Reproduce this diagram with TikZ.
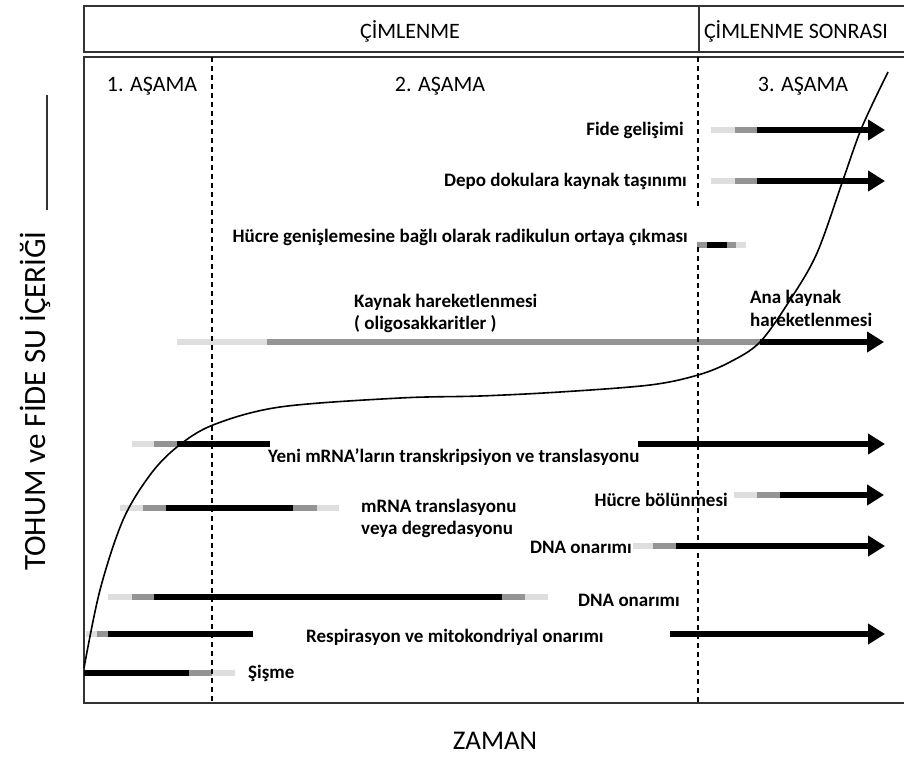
\documentclass[tikz,border=0pt]{standalone}
\usepackage{fontspec}
\setmainfont{Carlito}
\usetikzlibrary{arrows.meta}
\begin{document}
\begin{tikzpicture}[x=1pt,y=-1pt,
  frame/.style={line width=1.6pt, draw=black!80},
  phase/.style={line width=1.2pt, dash pattern=on 5pt off 4pt},
  lbar/.style={line width=6pt, draw=black!13},
  mbar/.style={line width=6pt, draw=black!42},
  kbar/.style={line width=6pt, draw=black},
  arr/.style={kbar, -{Triangle[length=17pt,width=20pt]}},
  lab/.style={font=\fontsize{19}{22}\selectfont\bfseries, inner sep=0pt},
  head/.style={font=\fontsize{22}{26}\selectfont, inner sep=0pt},
]
\useasboundingbox (0,0) rectangle (904,756);
% frames
\draw[frame] (904,6) -- (84,6) -- (84,52) -- (904,52);
\draw[frame] (699,6) -- (699,52);
\draw[frame] (904,57) -- (84,57) -- (84,703) -- (904,703);
% header texts
\node[head] (cim) at (410,31) {ÇİMLENME};
\node[head] (sonra) at (796,31) {ÇİMLENME SONRASI};
\node[head] (a1) at (152,86) {1. AŞAMA};
\node[head] (a2) at (440,86) {2. AŞAMA};
\node[head] (a3) at (803,86) {3. AŞAMA};
% axis labels
\node[font=\fontsize{31}{36}\selectfont, rotate=90, inner sep=0pt] (ylab) at (35,401) {TOHUM ve FİDE SU İÇERİĞİ};
\draw[line width=1.6pt, draw=black!80] (47,95) -- (47,210);
\node[font=\fontsize{27}{32}\selectfont, inner sep=0pt] (xlab) at (495,741) {ZAMAN};
% bars
% Fide gelisimi
\draw[lbar] (711,130) -- (735,130); \draw[mbar] (735,130) -- (757,130); \draw[arr] (757,130) -- (885,130);
% Depo
\draw[lbar] (711,181) -- (735,181); \draw[mbar] (735,181) -- (757,181); \draw[arr] (757,181) -- (885,181);
% Hucre genislemesi
\draw[mbar] (697,245) -- (707,245); \draw[kbar] (707,245) -- (727,245); \draw[mbar] (727,245) -- (736,245); \draw[lbar] (736,245) -- (746,245);
% Kaynak
\draw[lbar] (177,342) -- (267,342); \draw[mbar] (267,342) -- (760,342); \draw[arr] (760,342) -- (884,342);
% Yeni mRNA
\draw[lbar] (132,444) -- (154,444); \draw[mbar] (154,444) -- (177,444); \draw[kbar] (177,444) -- (270,444);
\draw[arr] (638,444) -- (885,444);
% mRNA translasyonu
\draw[lbar] (120,508) -- (143,508); \draw[mbar] (143,508) -- (166,508); \draw[kbar] (166,508) -- (293,508); \draw[mbar] (293,508) -- (317,508); \draw[lbar] (317,508) -- (339,508);
% Hucre bolunmesi
\draw[lbar] (734,495) -- (757,495); \draw[mbar] (757,495) -- (780,495); \draw[arr] (780,495) -- (884,495);
% DNA right
\draw[lbar] (633,546) -- (653,546); \draw[mbar] (653,546) -- (676,546); \draw[arr] (676,546) -- (885,546);
% DNA left
\draw[lbar] (108,597) -- (132,597); \draw[mbar] (132,597) -- (154,597); \draw[kbar] (154,597) -- (502,597); \draw[mbar] (502,597) -- (525,597); \draw[lbar] (525,597) -- (548,597);
% Respirasyon
\draw[lbar] (86,634) -- (97,634); \draw[mbar] (97,634) -- (108,634); \draw[kbar] (108,634) -- (253,634);
\draw[arr] (670,634) -- (885,634);
% Sisme
\draw[kbar] (84,673) -- (189,673); \draw[mbar] (189,673) -- (212,673); \draw[lbar] (212,673) -- (235,673);
% dashed phase lines
\draw[phase] (212,57) -- (212,703);
\draw[phase] (698,57) -- (698,207);
\draw[phase] (698,247) -- (698,703);
% curve
\draw[line width=1.6pt] plot[smooth, tension=0.55] coordinates {(84,668) (100,590) (123,520) (150,475) (177,447) (213,425) (280,407) (400,398) (480,396) (560,392) (650,385) (698,375) (730,362) (760,342) (790,300) (817,253) (843,180) (862,127) (888,72)};
% labels
\node[lab, anchor=east] (fide) at (684,130) {Fide gelişimi};
\node[lab, anchor=east] (depo) at (687,181) {Depo dokulara kaynak taşınımı};
\node[lab, anchor=east] (hgen) at (688,237) {Hücre genişlemesine bağlı olarak radikulun ortaya çıkması};
\node[lab, anchor=west] (kay1) at (354,302) {Kaynak hareketlenmesi};
\node[lab, anchor=west] (kay2) at (354,324) {( oligosakkaritler )};
\node[lab, anchor=west] (ana1) at (750,298) {Ana kaynak};
\node[lab, anchor=west] (ana2) at (750,320) {hareketlenmesi};
\node[lab, anchor=west] (yeni) at (268,457) {Yeni mRNA’ların transkripsiyon ve translasyonu};
\node[lab, anchor=west] (mt1) at (361,507) {mRNA translasyonu};
\node[lab, anchor=west] (mt2) at (361,529) {veya degredasyonu};
\node[lab, anchor=east] (hbol) at (728,500) {Hücre bölünmesi};
\node[lab, anchor=east] (dna1) at (632,547) {DNA onarımı};
\node[lab, anchor=west] (dna2) at (578,600) {DNA onarımı};
\node[lab, anchor=west] (resp) at (306,637) {Respirasyon ve mitokondriyal onarımı};
\node[lab, anchor=west] (sis) at (248,673) {Şişme};
\end{tikzpicture}
\end{document}
